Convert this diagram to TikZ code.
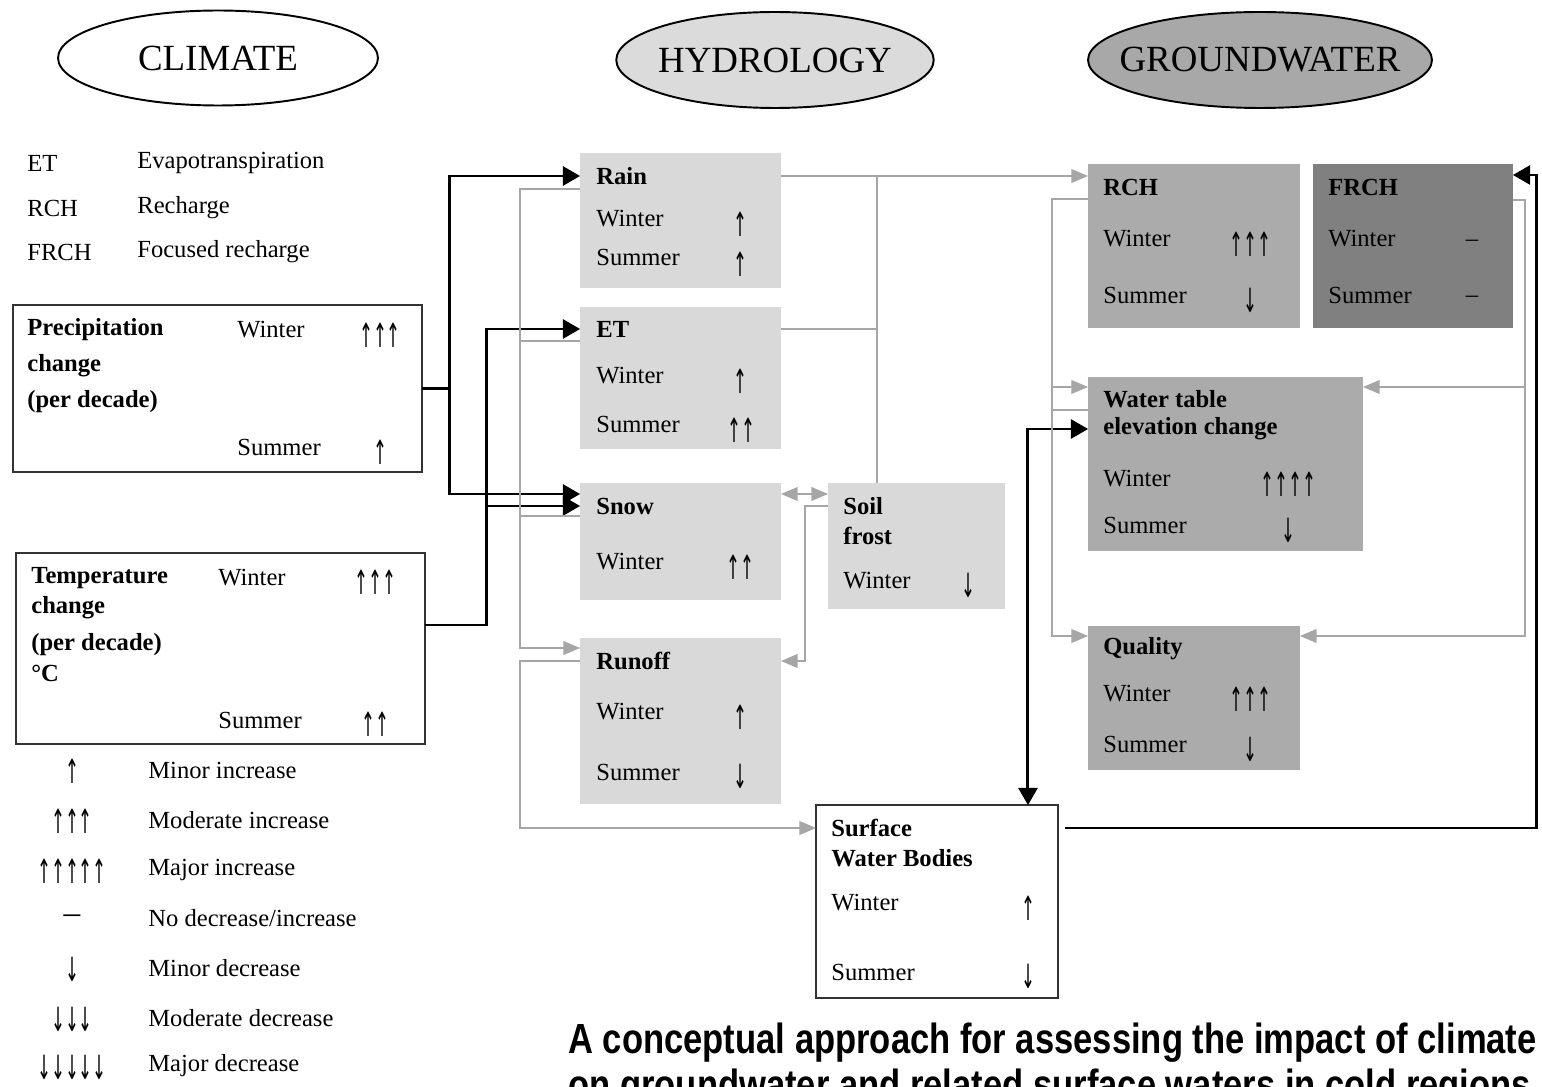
\documentclass[tikz,border=0pt]{standalone}
\usepackage{fontspec}
\setmainfont{Liberation Serif}
\newfontfamily\capfont[FakeStretch=0.82]{Liberation Sans}
\newfontfamily\arrowfont[FakeStretch=0.5]{DejaVu Sans}
\usepackage{tikz}
\usetikzlibrary{shapes,positioning,arrows}
\colorlet{hydro}{black!15}
\colorlet{gwat}{black!33}
\colorlet{gwdark}{black!50}
\colorlet{conn}{black!35}

\begin{document}
\begin{tikzpicture}[x=0.02cm,y=-0.02cm]
	\tikzset{>=triangle 60}
	\tikzset{
		oval/.style={ellipse,draw,line width=1.1pt,inner sep=0},
		head/.style={inner sep=0,font=\fontsize{21}{24}\selectfont},
		hbox/.style={fill=hydro,inner sep=0,outer sep=0},
		gbox/.style={fill=gwat,inner sep=0,outer sep=0},
		wbox/.style={draw=black!80,line width=1pt,fill=white,inner sep=0,outer sep=0},
		txt/.style={anchor=west,inner sep=0,font=\fontsize{14}{16}\selectfont},
		btxt/.style={anchor=west,inner sep=0,font=\fontsize{14}{16}\selectfont\bfseries},
		sym/.style={inner sep=0,font=\arrowfont\fontsize{19}{20}\selectfont},
		blk/.style={line width=1.7pt},
		gry/.style={draw=conn,line width=1.2pt,>=triangle 45}
	}
	\useasboundingbox (0,0) rectangle (1542,1087);
	\clip (0,0) rectangle (1542,1087);
	
	% Headings
	\node (climate) at (218,58) [oval,fill=white,minimum width=6.4cm,minimum height=1.9cm] {};
	\node[head] (climateT) at (climate) {CLIMATE};
	\node (hydrology) at (775,60) [oval,fill=black!14,minimum width=6.35cm,minimum height=1.92cm] {};
	\node[head] (hydrologyT) at (hydrology) {HYDROLOGY};
	\node (groundwater) at (1260,60) [oval,fill=black!34,minimum width=6.88cm,minimum height=1.92cm] {};
	\node[head] (groundwaterT) at (groundwater) {GROUNDWATER};
	
	% Abbreviations
	\foreach \abb/\full/\y [count=\i] in {ET/Evapotranspiration/163, RCH/Recharge/208, FRCH/Focused recharge/252}{
		\node[txt] (abb\i) at (27,\y) {\abb};
		\node[txt] (full\i) at (137,\y) {\full};
	}
	
	% Climate boxes
	\node (prec) at (217.5,388.5) [wbox,minimum width=8.18cm,minimum height=3.34cm] {};
	\node[btxt] (precT1) at (27,330) {Precipitation};
	\node[btxt] (precT2) at (27,366) {change};
	\node[btxt] (precT3) at (27,402) {(per decade)};
	\node[txt] (precW) at (237,330) {Winter};
	\node[sym] (precWs) at (380,335) {↑↑↑};
	\node[txt] (precS) at (237,447) {Summer};
	\node[sym] (precSs) at (380,452) {↑};
	
	\node (temp) at (220.5,648.5) [wbox,minimum width=8.18cm,minimum height=3.82cm] {};
	\node[btxt] (tempT1) at (31,578) {Temperature};
	\node[btxt] (tempT2) at (31,608) {change};
	\node[btxt] (tempT3) at (31,645) {(per decade)};
	\node[btxt] (tempT4) at (31,673) {°C};
	\node[txt] (tempW) at (218,578) {Winter};
	\node[sym] (tempWs) at (375,582) {↑↑↑};
	\node[txt] (tempS) at (218,720) {Summer};
	\node[sym] (tempSs) at (375,724) {↑↑};
	
	% Legend of the arrows
	\foreach \sym/\lab/\y [count=\i] in {↑/Minor increase/770, ↑↑↑/Moderate increase/820, ↑↑↑↑↑/Major increase/870, {\normalfont –}/{No decrease/increase}/918, ↓/Minor decrease/968, ↓↓↓/Moderate decrease/1018, ↓↓↓↓↓/Major decrease/1066}{
		\node[sym] (legS\i) at (72,\y+1) {\sym};
		\node[txt] (legL\i) at (148,\y) {\lab};
	}
	
	% Hydrology boxes
	\node (rain) at (680.5,220.5) [hbox,minimum width=4.02cm,minimum height=2.7cm] {};
	\node[btxt] (rainT) at (596,176) {Rain};
	\node[txt] (rainW) at (596,219) {Winter};
	\node[sym] (rainWs) at (740,224) {↑};
	\node[txt] (rainS) at (596,257) {Summer};
	\node[sym] (rainSs) at (740,264) {↑};
	
	\node (et) at (680.5,378) [hbox,minimum width=4.02cm,minimum height=2.84cm] {};
	\node[btxt] (etT) at (596,329) {ET};
	\node[txt] (etW) at (596,376) {Winter};
	\node[sym] (etWs) at (740,381) {↑};
	\node[txt] (etS) at (596,424) {Summer};
	\node[sym] (etSs) at (741,430) {↑↑};
	
	\node (snow) at (680.5,541.5) [hbox,minimum width=4.02cm,minimum height=2.34cm] {};
	\node[btxt] (snowT) at (596,506) {Snow};
	\node[txt] (snowW) at (596,562) {Winter};
	\node[sym] (snowWs) at (740,567) {↑↑};
	
	\node (soil) at (916.5,546) [hbox,minimum width=3.54cm,minimum height=2.52cm] {};
	\node[btxt] (soilT1) at (843,506) {Soil};
	\node[btxt] (soilT2) at (843,536) {frost};
	\node[txt] (soilW) at (843,581) {Winter};
	\node[sym] (soilWs) at (968,585) {↓};
	
	\node (runoff) at (680.5,721) [hbox,minimum width=4.02cm,minimum height=3.32cm] {};
	\node[btxt] (runoffT) at (596,661) {Runoff};
	\node[txt] (runoffW) at (596,712) {Winter};
	\node[sym] (runoffWs) at (740,717) {↑};
	\node[txt] (runoffS) at (596,772) {Summer};
	\node[sym] (runoffSs) at (740,776) {↓};
	
	\node (surf) at (937,901.5) [wbox,minimum width=4.84cm,minimum height=3.86cm] {};
	\node[btxt] (surfT1) at (831,828) {Surface};
	\node[btxt] (surfT2) at (831,858) {Water Bodies};
	\node[txt] (surfW) at (831,903) {Winter};
	\node[sym] (surfWs) at (1028,908) {↑};
	\node[txt] (surfS) at (831,972) {Summer};
	\node[sym] (surfSs) at (1028,976) {↓};
	
	% Groundwater boxes
	\node (rch) at (1194,246) [gbox,minimum width=4.24cm,minimum height=3.28cm] {};
	\node[btxt] (rchT) at (1103,187) {RCH};
	\node[txt] (rchW) at (1103,239) {Winter};
	\node[sym] (rchWs) at (1250,244) {↑↑↑};
	\node[txt] (rchS) at (1103,295) {Summer};
	\node[sym] (rchSs) at (1250,300) {↓};
	
	\node (frch) at (1413,246) [gbox,fill=gwdark,minimum width=4cm,minimum height=3.28cm] {};
	\node[btxt] (frchT) at (1328,187) {FRCH};
	\node[txt] (frchW) at (1328,239) {Winter};
	\node[txt,anchor=center] (frchWs) at (1472,243) {–};
	\node[txt] (frchS) at (1328,295) {Summer};
	\node[txt,anchor=center] (frchSs) at (1472,299) {–};
	
	\node (wt) at (1225.5,464) [gbox,minimum width=5.5cm,minimum height=3.48cm] {};
	\node[btxt] (wtT1) at (1103,399) {Water table};
	\node[btxt] (wtT2) at (1103,429) {elevation change};
	\node[txt] (wtW) at (1103,479) {Winter};
	\node[sym] (wtWs) at (1288,484) {↑↑↑↑};
	\node[txt] (wtS) at (1103,525) {Summer};
	\node[sym] (wtSs) at (1288,530) {↓};
	
	\node (qual) at (1194,698) [gbox,minimum width=4.24cm,minimum height=2.88cm] {};
	\node[btxt] (qualT) at (1103,649) {Quality};
	\node[txt] (qualW) at (1103,694) {Winter};
	\node[sym] (qualWs) at (1250,699) {↑↑↑};
	\node[txt] (qualS) at (1103,744) {Summer};
	\node[sym] (qualSs) at (1250,749) {↓};
	
	% Climate drivers (black)
	\draw[blk,->] (prec.east) -- ++(28,0) coordinate (pj) |- (rain.west |- rainT.west);
	\draw[blk,->] (pj) |- ([yshift=0.24cm]snow.west |- snowT.west);
	\draw[blk,->] ([yshift=0.47cm]temp.east) -- ++(62,0) coordinate (tj) |- (et.west |- etT.west);
	\draw[blk,->] (tj) |- (snow.west |- snowT.west);
	\draw[blk,->] ([xshift=0.14cm]surf.east |- surfT1.west) -- ++(472,0) |- ([yshift=0.24cm]frch.east |- frchT.west);
	\draw[blk,<->] ([xshift=-0.6cm]surf.north east) |- (wt.west |- wtT2.west);
	
	% Hydrology links (gray)
	\draw[gry,->] (rain.east |- rainT.west) -- (rch.west |- rainT.west);
	\coordinate (sf) at ([xshift=0.98cm]soil.north west);
	\draw[gry] (sf) -- (sf |- rainT.west);
	\draw[gry] (et.east |- etT.west) -- (sf |- etT.west);
	\draw[gry,->] ([yshift=-0.26cm]rain.west |- rainT.west) -- ++(-60,0) |- ([yshift=0.26cm]runoff.west |- runoffT.west);
	\draw[gry] ([yshift=-0.24cm]et.west |- etT.west) -- ++(-60,0);
	\draw[gry] ([yshift=-0.2cm]snow.west |- snowT.west) -- ++(-60,0);
	\draw[gry,->] (runoff.west |- runoffT.west) -- ++(-60,0) |- (surf.west |- surfT1.west);
	\draw[gry,<->] ([yshift=0.24cm]snow.east |- snowT.west) -- ([yshift=0.24cm]soil.west |- snowT.west);
	\draw[gry,->] (soil.west |- snowT.west) -- ++(-23,0) |- (runoff.east |- runoffT.west);
	
	% Groundwater links (gray)
	\draw[gry,->] ([yshift=-0.24cm]rch.west |- rchT.west) -- ++(-36,0) coordinate (rj) |- ([yshift=0.26cm]qual.west |- qualT.west);
	\draw[gry,->] (rj) |- ([yshift=0.24cm]wt.west |- wtT1.west);
	\draw[gry] ([yshift=-0.22cm]wt.west |- wtT1.west) -- ++(-36,0);
	\draw[gry,->] ([yshift=-0.26cm]frch.east |- frchT.west) -- ++(12,0) coordinate (fj) |- ([yshift=0.26cm]qual.east |- qualT.west);
	\draw[gry,->] (fj) |- ([yshift=0.24cm]wt.east |- wtT1.west);
	
	% Caption
	\node[anchor=west,inner sep=0,font=\capfont\bfseries\fontsize{24}{28}\selectfont] (cap1) at (568,1043) {A conceptual approach for assessing the impact of climate};
	\node[anchor=west,inner sep=0,font=\capfont\bfseries\fontsize{24}{28}\selectfont] (cap2) at (568,1089) {on groundwater and related surface waters in cold regions};
\end{tikzpicture}
\end{document}
